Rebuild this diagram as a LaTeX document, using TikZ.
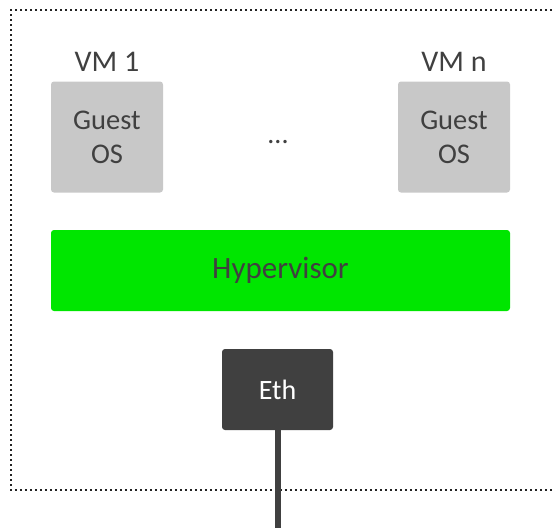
\documentclass[tikz,border=0pt]{standalone}
\usepackage{fontspec}
\setmainfont{Carlito}
\definecolor{txt}{HTML}{404040}
\definecolor{guest}{HTML}{C8C8C8}
\definecolor{hyp}{HTML}{00E600}
\definecolor{eth}{HTML}{404040}
\definecolor{dots}{HTML}{222222}
\begin{document}
\begin{tikzpicture}[x=1pt,y=-1pt,
  box/.style={rectangle,rounded corners=3pt,inner sep=0pt,align=center,text=txt},
  guestbox/.style={box,fill=guest,minimum width=112pt,minimum height=111pt,font=\fontsize{28.5}{34}\selectfont},
  vmlabel/.style={text=txt,font=\fontsize{30}{36}\selectfont,inner sep=0pt},
  border/.style={draw=dots,line width=2.4pt,dash pattern=on 2.4pt off 2.6pt}]
\useasboundingbox (0,0) rectangle (552,528);
\draw[border] (552,10) -- (11,10) -- (11,490) -- (552,490);
\node[vmlabel] (vm1) at (107,62) {VM 1};
\node[vmlabel] (vmn) at (454,62) {VM n};
\node[guestbox] (g1) at (107,137) {Guest\\OS};
\node[guestbox] (gn) at (454,137) {Guest\\OS};
\node[text=txt,font=\fontsize{28}{34}\selectfont,inner sep=0pt] (ell) at (278,142) {...};
\node[box,fill=hyp,minimum width=459pt,minimum height=81pt,font=\fontsize{31}{36}\selectfont] (hv) at (280.5,270.5) {Hypervisor};
\node[box,fill=eth,text=white,minimum width=111pt,minimum height=81pt,font=\fontsize{28}{34}\selectfont] (eth) at (277.5,389.5) {Eth};
\coordinate (out) at (eth.south |- 0,528);
\draw[eth,line width=6pt] (eth.south) -- (out);
\end{tikzpicture}
\end{document}
